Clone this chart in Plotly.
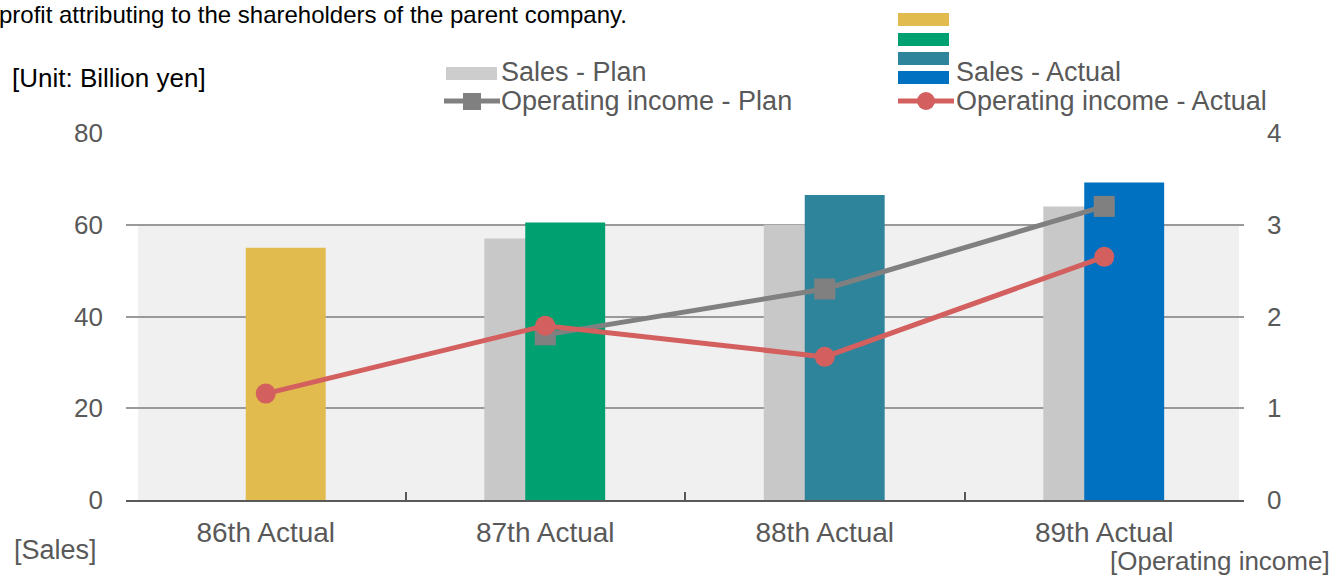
import plotly.graph_objects as go

categories = ["86th Actual", "87th Actual", "88th Actual", "89th Actual"]
sales_plan = [None, 57, 60, 64]
sales_actual = [55, 60.5, 66.5, 69.2]
actual_colors = ["#E1BB4D", "#00A070", "#2E849B", "#0070C0"]
op_plan = [None, 1.8, 2.3, 3.2]
op_actual = [1.16, 1.9, 1.56, 2.65]

FONT = "Liberation Sans, Arial, sans-serif"
W, H = 1334, 577
L, R, T, B = 126, 1244, 133, 500


def px(x):
    return (x - L) / (R - L)


def py(y):
    return (B - y) / (B - T)


fig = go.Figure()

fig.add_trace(go.Bar(
    x=categories, y=sales_plan, name="Sales - Plan",
    marker=dict(color="#C8C8C8", line=dict(width=0)),
    width=0.286, offset=-0.218, showlegend=False,
))
fig.add_trace(go.Bar(
    x=categories, y=sales_actual, name="Sales - Actual",
    marker=dict(color=actual_colors, line=dict(width=0)),
    width=0.286, offset=-0.0716, showlegend=False,
))
fig.add_trace(go.Scatter(
    x=categories, y=op_plan, name="Operating income - Plan", yaxis="y2",
    mode="lines+markers", line=dict(color="#808080", width=5),
    marker=dict(symbol="square", size=21, color="#808080"),
    showlegend=False,
))
fig.add_trace(go.Scatter(
    x=categories, y=op_actual, name="Operating income - Actual", yaxis="y2",
    mode="lines+markers", line=dict(color="#D35F5F", width=5),
    marker=dict(symbol="circle", size=20, color="#D35F5F"),
    showlegend=False,
))

shapes = []
# light background band
shapes.append(dict(type="rect", xref="paper", yref="y", x0=px(138), x1=px(1239),
                   y0=0, y1=60, fillcolor="#F0F0F0", line=dict(width=0), layer="below"))

# legend swatches
shapes.append(dict(type="rect", xref="paper", yref="paper", x0=px(446), x1=px(497),
                   y0=py(80), y1=py(67), fillcolor="#CDCDCD", line=dict(width=0)))
for c, (y0, y1) in zip(actual_colors, [(13, 26), (33, 46), (52, 65), (71, 84)]):
    shapes.append(dict(type="rect", xref="paper", yref="paper", x0=px(898), x1=px(949),
                       y0=py(y1), y1=py(y0), fillcolor=c, line=dict(width=0)))
shapes.append(dict(type="line", xref="paper", yref="paper", x0=px(444), x1=px(500),
                   y0=py(101), y1=py(101), line=dict(color="#808080", width=5)))
shapes.append(dict(type="rect", xref="paper", yref="paper", x0=px(463), x1=px(481),
                   y0=py(110), y1=py(93), fillcolor="#808080", line=dict(width=0)))
shapes.append(dict(type="line", xref="paper", yref="paper", x0=px(898), x1=px(954),
                   y0=py(101), y1=py(101), line=dict(color="#D35F5F", width=5)))
shapes.append(dict(type="circle", xref="paper", yref="paper", x0=px(917), x1=px(935),
                   y0=py(110), y1=py(92), fillcolor="#D35F5F", line=dict(width=0)))

annotations = []


def txt(text, x, y, xanchor="left", size=26, color="#595959"):
    annotations.append(dict(text=text, x=px(x), y=py(y), xref="paper", yref="paper",
                            xanchor=xanchor, yanchor="middle", showarrow=False, borderpad=0,
                            font=dict(family=FONT, size=size, color=color)))


txt("profit attributing to the shareholders of the parent company.", -2, 15, size=24,
    color="#000000")
txt("[Unit: Billion yen]", 11, 78, color="#000000")
txt("Sales - Plan", 500, 72, size=27)
txt("Operating income - Plan", 500, 101, size=27)
txt("Sales - Actual", 955, 72, size=27)
txt("Operating income - Actual", 955, 101, size=27)
txt("[Sales]", 13, 550, size=27)
txt("[Operating income]", 1331, 561, xanchor="right")

fig.update_layout(
    width=W, height=H,
    margin=dict(l=L, r=W - R, t=T, b=H - B, pad=0),
    paper_bgcolor="white", plot_bgcolor="white",
    barmode="overlay",
    shapes=shapes, annotations=annotations,
    font=dict(family=FONT, size=26, color="#595959"),
    xaxis=dict(
        type="category", showline=True, linecolor="#595959", linewidth=1.5,
        ticks="inside", ticklen=8, tickcolor="#595959", tickwidth=1.5,
        tickson="boundaries", showgrid=False, ticklabelstandoff=7,
        tickfont=dict(family=FONT, size=28, color="#595959"),
        range=[-0.5, 3.5],
    ),
    yaxis=dict(
        range=[0, 80], dtick=20, showgrid=True, gridcolor="#9A9A9A", gridwidth=1.5,
        showline=False, zeroline=False, ticks="", ticklabelstandoff=22,
        tickfont=dict(family=FONT, size=26, color="#595959"),
    ),
    yaxis2=dict(
        range=[0, 4], dtick=1, overlaying="y", side="right", showgrid=False,
        showline=False, zeroline=False, ticks="", ticklabelstandoff=22,
        tickfont=dict(family=FONT, size=26, color="#595959"),
    ),
)

fig.write_html("out.html", config={"displayModeBar": False},
               post_script="document.body.style.margin='0';")
